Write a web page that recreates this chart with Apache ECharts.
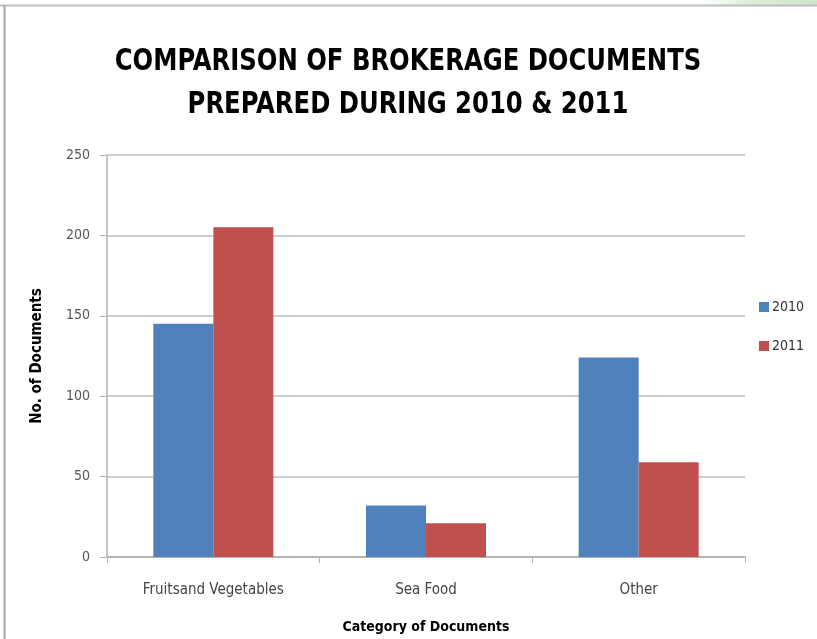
<!DOCTYPE html>
<html>
<head>
<meta charset="utf-8">
<script src="https://cdn.jsdelivr.net/npm/echarts@6/dist/echarts.min.js"></script>
<style>
  html, body { margin: 0; padding: 0; background: #ffffff; }
  #chart { width: 817px; height: 639px; }
</style>
</head>
<body>
<div id="chart"></div>
<script>
// Document categories and yearly counts
const categories = ['Fruitsand Vegetables', 'Sea Food', 'Other'];
const docs2010 = [145, 32, 124];
const docs2011 = [205, 21, 59];
const yTicks = [0, 50, 100, 150, 200, 250];

const chart = echarts.init(document.getElementById('chart'), null, { renderer: 'canvas' });

const narrow = '"DejaVu Sans Condensed", "Liberation Sans", sans-serif';

chart.setOption({
  backgroundColor: '#ffffff',
  animation: false,
  legend: {
    orient: 'vertical',
    left: 754,
    top: 295,
    itemWidth: 10,
    itemHeight: 10,
    itemGap: 25,
    icon: 'rect',
    textStyle: { fontFamily: narrow, fontSize: 14, color: '#333333', padding: [0, 0, 0, -2] },
    data: ['2010', '2011']
  },
  grid: {
    left: 107,
    right: 72,
    top: 155,
    bottom: 81,
    containLabel: false
  },
  xAxis: {
    type: 'category',
    data: categories,
    name: 'Category of Documents',
    nameLocation: 'middle',
    nameGap: 63,
    nameTextStyle: { fontFamily: narrow, fontWeight: 'bold', fontSize: 14, color: '#000000' },
    axisLine: { lineStyle: { color: '#b3b3b3', width: 2 } },
    axisTick: { show: true, length: 6, lineStyle: { color: '#b3b3b3' } },
    axisLabel: { fontFamily: narrow, fontSize: 15, color: '#444444', margin: 26 }
  },
  yAxis: {
    type: 'value',
    min: yTicks[0],
    max: yTicks[yTicks.length - 1],
    interval: 50,
    name: 'No. of Documents',
    nameLocation: 'middle',
    nameGap: 62,
    nameRotate: 90,
    nameTextStyle: { fontFamily: narrow, fontWeight: 'bold', fontSize: 15, color: '#000000' },
    axisLine: { show: true, lineStyle: { color: '#b3b3b3', width: 1.5 } },
    axisTick: { show: true, length: 7, lineStyle: { color: '#b3b3b3' } },
    axisLabel: { fontFamily: narrow, fontSize: 14, color: '#555555', margin: 17 },
    splitLine: { lineStyle: { color: '#bdbdbd', width: 1.5 } }
  },
  series: [
    {
      name: '2010',
      type: 'bar',
      data: docs2010,
      barWidth: 60,
      barGap: '0%',
      itemStyle: { color: '#4f81bd' }
    },
    {
      name: '2011',
      type: 'bar',
      data: docs2011,
      barWidth: 60,
      barGap: '0%',
      itemStyle: { color: '#c0504d' }
    }
  ],
  graphic: [
    // two-line heading, horizontally compressed
    {
      type: 'text',
      x: 408,
      y: 84,
      scaleX: 0.9,
      silent: true,
      style: {
        text: 'COMPARISON OF BROKERAGE DOCUMENTS\nPREPARED DURING 2010 & 2011',
        font: 'bold 30px ' + narrow,
        lineHeight: 43,
        fill: '#000000',
        align: 'center',
        verticalAlign: 'middle'
      }
    },
    // soft green band along the top-right edge
    {
      type: 'rect',
      shape: { x: 700, y: 0, width: 117, height: 5 },
      style: {
        fill: new echarts.graphic.LinearGradient(0, 0, 1, 0, [
          { offset: 0, color: 'rgba(220,240,220,0)' },
          { offset: 0.4, color: '#dcefd8' },
          { offset: 1, color: '#cfe6cb' }
        ])
      },
      silent: true
    },
    // page frame: top and left edges
    {
      type: 'line',
      shape: { x1: 0, y1: 5.5, x2: 817, y2: 5.5 },
      style: { stroke: '#bdbdbd', lineWidth: 2 },
      silent: true
    },
    {
      type: 'line',
      shape: { x1: 4.5, y1: 5, x2: 4.5, y2: 639 },
      style: { stroke: '#a8a8a8', lineWidth: 2 },
      silent: true
    }
  ]
});
</script>
</body>
</html>
